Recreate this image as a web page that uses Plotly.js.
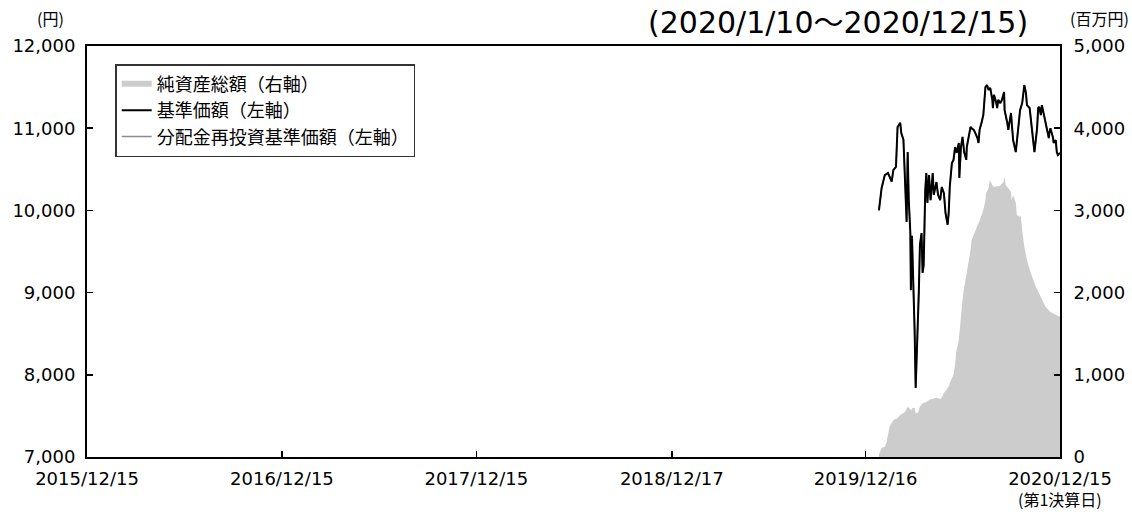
<!DOCTYPE html>
<html>
<head>
<meta charset="utf-8">
<script src="https://cdn.plot.ly/plotly-3.0.1.min.js"></script>
<style>
  body { margin: 0; background: #fff; }
  #myPlot { width: 1132px; height: 512px; }
</style>
</head>
<body>
<div id="myPlot"></div>
<script>
// 基準価額 (円)
var navDates = ['2020-01-10','2020-01-15','2020-01-21','2020-01-27','2020-02-03','2020-02-06','2020-02-11','2020-02-14',
  '2020-02-19','2020-02-21','2020-02-25','2020-02-28','2020-03-02','2020-03-04','2020-03-06','2020-03-09','2020-03-10',
  '2020-03-12','2020-03-16','2020-03-17','2020-03-19','2020-03-23','2020-03-25','2020-03-27','2020-03-30','2020-04-01',
  '2020-04-03','2020-04-06','2020-04-08','2020-04-10','2020-04-13','2020-04-16','2020-04-20','2020-04-22','2020-04-27',
  '2020-04-30','2020-05-04','2020-05-07','2020-05-11','2020-05-14','2020-05-18','2020-05-20','2020-05-22','2020-05-26',
  '2020-05-29','2020-06-01','2020-06-04','2020-06-08','2020-06-09','2020-06-12','2020-06-15','2020-06-18','2020-06-22',
  '2020-06-23','2020-06-26','2020-06-30','2020-07-02','2020-07-06','2020-07-08','2020-07-13','2020-07-15','2020-07-17',
  '2020-07-21','2020-07-24','2020-07-28','2020-07-31','2020-08-03','2020-08-06','2020-08-10','2020-08-11','2020-08-13',
  '2020-08-17','2020-08-19','2020-08-21','2020-08-25','2020-08-28','2020-09-01','2020-09-02','2020-09-07','2020-09-09',
  '2020-09-11','2020-09-14','2020-09-16','2020-09-18','2020-09-23','2020-09-25','2020-09-28','2020-10-01','2020-10-05',
  '2020-10-07','2020-10-09','2020-10-12','2020-10-14','2020-10-19','2020-10-21','2020-10-23','2020-10-26','2020-10-28',
  '2020-11-02','2020-11-04','2020-11-06','2020-11-09','2020-11-11','2020-11-13','2020-11-16','2020-11-19','2020-11-24',
  '2020-11-25','2020-11-27','2020-12-02','2020-12-03','2020-12-07','2020-12-09','2020-12-11','2020-12-15'];
var navValues = [10000,10270,10430,10455,10350,10490,10530,11015,
  11065,10940,10860,10405,9860,10710,10130,9725,9030,
  9690,8910,8545,7840,8545,9030,9580,9725,9240,
  9335,10250,10455,10090,10430,10125,10455,10190,10345,
  10190,10125,10285,10210,9970,9825,9970,10285,10575,
  10615,10770,10700,10820,10395,10770,10895,10710,10615,
  10770,10880,11015,11000,10980,10955,10880,10820,10980,
  11075,11160,11500,11525,11465,11490,11345,11245,11405,
  11320,11245,11345,11305,11345,11440,11220,11065,10980,
  11065,11185,11015,10855,10710,10855,11065,11220,11305,
  11465,11525,11430,11280,11245,11135,11015,10830,10710,
  11000,11245,11260,11160,11280,11220,11100,11000,10880,
  10940,11000,10880,10820,10855,10710,10675,10700];
// 分配金再投資基準価額 (円) — no distribution yet, same as 基準価額
var reinvValues = navValues.slice();

// 純資産総額 (百万円)
var assetDates = ['2020-01-10','2020-01-15','2020-01-21','2020-01-24','2020-01-30','2020-02-03','2020-02-06','2020-02-14',
  '2020-02-19','2020-02-25','2020-02-28','2020-03-04','2020-03-11','2020-03-13','2020-03-17','2020-03-19','2020-03-23',
  '2020-03-27','2020-04-01','2020-04-08','2020-04-14','2020-04-27','2020-05-04','2020-05-07','2020-05-11','2020-05-18',
  '2020-05-20','2020-05-22','2020-05-29','2020-06-01','2020-06-03','2020-06-08','2020-06-11','2020-06-15','2020-06-17',
  '2020-06-23','2020-06-30','2020-07-02','2020-07-08','2020-07-13','2020-07-17','2020-07-24','2020-07-28','2020-07-29',
  '2020-08-03','2020-08-05','2020-08-10','2020-08-13','2020-08-18','2020-08-24','2020-08-31','2020-09-02','2020-09-04',
  '2020-09-09','2020-09-14','2020-09-15','2020-09-18','2020-09-23','2020-09-25','2020-10-01','2020-10-02','2020-10-05',
  '2020-10-09','2020-10-15','2020-10-21','2020-10-30','2020-11-09','2020-11-18','2020-11-27','2020-12-07','2020-12-15'];
var assetValues = [30,110,125,170,370,415,450,475,
  510,535,550,610,570,595,595,535,535,
  610,655,670,695,720,705,720,780,840,
  855,900,1000,1120,1275,1425,1630,1910,2030,
  2240,2520,2640,2735,2820,2870,3005,3125,3210,
  3270,3370,3310,3285,3295,3295,3345,3405,3310,
  3270,3225,3125,3185,3090,2945,2920,2945,2760,
  2555,2370,2240,2080,1945,1825,1765,1730,1705];

var tickDates = ['2015-12-15','2016-12-15','2017-12-15','2018-12-17','2019-12-16','2020-12-15'];
var tickLabels = ['2015/12/15','2016/12/15','2017/12/15','2018/12/17','2019/12/16','2020/12/15'];
var settleNote = '(第1決算日)';
var yenTicks = [7000,8000,9000,10000,11000,12000];
var assetTicks = [0,1000,2000,3000,4000,5000];

var FONT = '"DejaVu Sans", "Noto Sans CJK JP", sans-serif';
var JFONT = '"Noto Sans CJK JP", "DejaVu Sans", sans-serif';

var traceAsset = {
  x: assetDates, y: assetValues, yaxis: 'y', name: '純資産総額（右軸）', legendrank: 1,
  type: 'scatter', mode: 'none', fill: 'tozeroy', fillcolor: '#cccccc'
};
var traceReinv = {
  x: navDates, y: reinvValues, yaxis: 'y2', name: '分配金再投資基準価額（左軸）', legendrank: 3,
  type: 'scatter', mode: 'lines', line: {color: '#8c8c8c', width: 1.5}
};
var traceNav = {
  x: navDates, y: navValues, yaxis: 'y2', name: '基準価額（左軸）', legendrank: 2,
  type: 'scatter', mode: 'lines', line: {color: '#000000', width: 2}
};

// gray line drawn first so the black one sits on top
var data = [traceAsset, traceReinv, traceNav];

var layout = {
  width: 1132, height: 512,
  margin: {l: 87, r: 72, t: 46, b: 55},
  paper_bgcolor: '#ffffff', plot_bgcolor: '#ffffff',
  font: {family: FONT, color: '#000000', size: 18},
  showlegend: true,
  legend: {
    x: 0.029, y: 0.956, xanchor: 'left', yanchor: 'top',
    bgcolor: '#ffffff', bordercolor: '#333333', borderwidth: 1.5,
    font: {family: JFONT, size: 18, color: '#000000'},
    tracegroupgap: 0
  },
  xaxis: {
    type: 'date', range: ['2015-12-15', '2020-12-15'],
    tickmode: 'array', tickvals: tickDates, ticktext: tickLabels,
    ticks: 'inside', ticklen: 6, tickcolor: '#000', tickwidth: 1.5,
    ticklabelstandoff: 4,
    showline: true, linecolor: '#000', linewidth: 2, mirror: true,
    showgrid: false, zeroline: false,
    tickfont: {family: FONT, size: 18}
  },
  yaxis: {
    side: 'right', range: [0, 5000],
    tickmode: 'array', tickvals: assetTicks, tickformat: ',d',
    ticks: 'inside', ticklen: 6, tickcolor: '#000', tickwidth: 1.5,
    ticklabelstandoff: 8,
    showline: true, linecolor: '#000', linewidth: 2,
    showgrid: false, zeroline: false,
    tickfont: {family: FONT, size: 18}
  },
  yaxis2: {
    side: 'left', overlaying: 'y', range: [7000, 12000],
    tickmode: 'array', tickvals: yenTicks, tickformat: ',d',
    ticks: 'inside', ticklen: 6, tickcolor: '#000', tickwidth: 1.5,
    ticklabelstandoff: 6,
    showline: true, linecolor: '#000', linewidth: 2,
    showgrid: false, zeroline: false,
    tickfont: {family: FONT, size: 18}
  },
  annotations: [
    {text: '(2020/1/10～2020/12/15)', xref: 'paper', yref: 'paper', x: 0.969, y: 1.058,
     xanchor: 'right', yanchor: 'middle', showarrow: false, font: {family: FONT, size: 30}},
    {text: '(円)', xref: 'paper', yref: 'paper', x: -0.038, y: 1.068,
     xanchor: 'center', yanchor: 'middle', showarrow: false, font: {family: JFONT, size: 16}},
    {text: '(百万円)', xref: 'paper', yref: 'paper', x: 1.041, y: 1.068,
     xanchor: 'center', yanchor: 'middle', showarrow: false, font: {family: JFONT, size: 16}},
    {text: settleNote, xref: 'x', yref: 'paper', x: tickDates[5], y: -0.102,
     xanchor: 'center', yanchor: 'middle', showarrow: false, font: {family: JFONT, size: 16}}
  ]
};

Plotly.newPlot('myPlot', data, layout, {staticPlot: true});
</script>
</body>
</html>
